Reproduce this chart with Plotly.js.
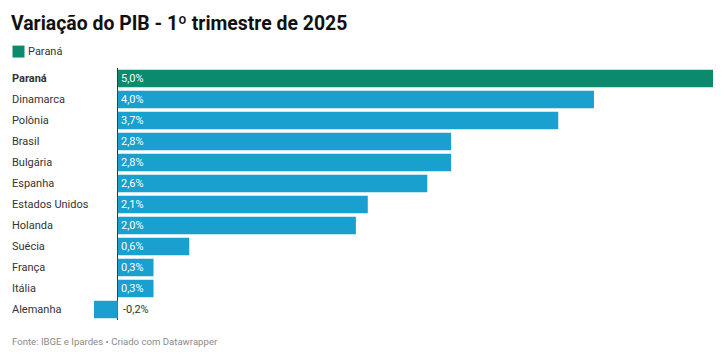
<!DOCTYPE html>
<html><head><meta charset="utf-8">
<script src="https://cdn.plot.ly/plotly-3.0.1.min.js"></script>
<style>html,body{margin:0;padding:0;background:#fff}#c{width:726px;height:360px}</style>
</head><body><div id="c"></div>
<script>
const countries = ["Paraná","Dinamarca","Polônia","Brasil","Bulgária","Espanha","Estados Unidos","Holanda","Suécia","França","Itália","Alemanha"];
const values = [5.0,4.0,3.7,2.8,2.8,2.6,2.1,2.0,0.6,0.3,0.3,-0.2];
const highlight = "Paraná";
const legendLabel = "Paraná";
const GREEN = "#0b8a6e", BLUE = "#1aa0cf";

const fmt = v => v.toFixed(1).replace(".", ",") + "%";
const hi = countries.map((c,i)=>c===highlight?i:-1).filter(i=>i>=0);
const lo = countries.map((c,i)=>c!==highlight?i:-1).filter(i=>i>=0);

const traces = [
  {type:"bar", orientation:"h", name:"Paraná", y:hi.map(i=>countries[i]), x:hi.map(i=>values[i]),
   marker:{color:GREEN}, hoverinfo:"skip"},
  {type:"bar", orientation:"h", name:"Outros", y:lo.map(i=>countries[i]), x:lo.map(i=>values[i]),
   marker:{color:BLUE}, hoverinfo:"skip"}
];

const L = 94, R = 13, T = 67.5, B = 39.5, W = 726, H = 360;
const pw = W - L - R, ph = H - T - B;
const px = X => (X - L) / pw;
const py = Y => 1 - (Y - T) / ph;

const annotations = [];
countries.forEach((c,i)=>{
  annotations.push({xref:"paper", yref:"y", x:px(10), y:c, xanchor:"left", yanchor:"middle",
    text: c===highlight ? "<b>"+c+"</b>" : c, showarrow:false,
    font:{family:"Roboto", size:11, color:"#333"}});
  annotations.push({xref:"x", yref:"y", x:0, y:c, xanchor:"left", yanchor:"middle", xshift:values[i]<0?3:1.5,
    text: fmt(values[i]), showarrow:false,
    font:{family:"Roboto", size:11, color: values[i] < 0 ? "#333" : "#fff"}});
});
annotations.push({xref:"paper", yref:"paper", x:px(26), y:py(51), xanchor:"left", yanchor:"middle",
  text:legendLabel, showarrow:false, font:{family:"Roboto", size:11, color:"#333"}});
annotations.push({xref:"paper", yref:"paper", x:px(10), y:py(342), xanchor:"left", yanchor:"middle",
  text:"Fonte: IBGE e Ipardes • Criado com Datawrapper", showarrow:false,
  font:{family:"Roboto", size:9.6, color:"#8a8a8a"}});

const layout = {
  width:W, height:H,
  margin:{l:L, r:R, t:T, b:B},
  paper_bgcolor:"#fff", plot_bgcolor:"#fff",
  barmode:"overlay", bargap:0.17,
  title:{text:"<b>Variação do PIB - 1º trimestre de 2025</b>", x:11/W, xanchor:"left", xref:"container",
    y:1-23/H, yanchor:"middle", yref:"container", font:{family:"Roboto", size:19.4, color:"#111"}},
  showlegend:false,
  shapes:[{type:"rect", xref:"paper", yref:"paper", x0:px(12.5), x1:px(24.5), y0:py(45), y1:py(57),
    fillcolor:GREEN, line:{width:0}}],
  xaxis:{range:[-0.2,5.0], showgrid:false, showticklabels:false, ticks:"", zeroline:true,
    zerolinecolor:"#333", zerolinewidth:1, fixedrange:true},
  yaxis:{autorange:false, range:[countries.length-0.5,-0.5], type:"category", categoryorder:"array",
    categoryarray:countries, showticklabels:false, ticks:"", showgrid:false, zeroline:false},
  annotations:annotations,
  font:{family:"Roboto"}
};
Plotly.newPlot("c", traces, layout, {displayModeBar:false, staticPlot:true});
</script></body></html>
